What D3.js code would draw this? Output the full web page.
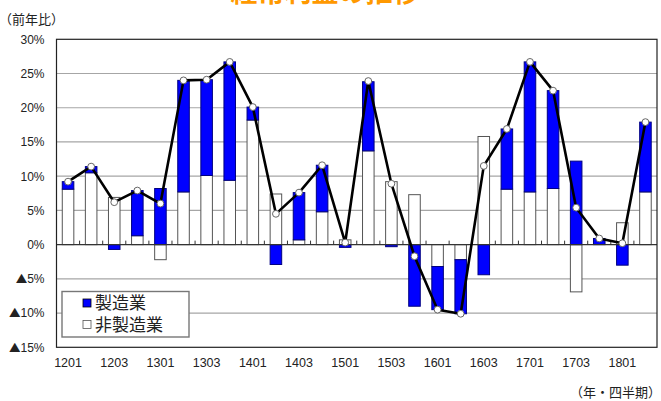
<!DOCTYPE html>
<html><head><meta charset="utf-8">
<script src="https://cdn.jsdelivr.net/npm/d3@7"></script>
<style>
html,body{margin:0;padding:0;background:#fff;}
svg{display:block;}
text{font-family:"Liberation Sans",Arial,"Noto Sans CJK JP",sans-serif;}
.jp{font-family:"Noto Sans CJK JP","Liberation Sans",sans-serif;}
</style></head>
<body>
<script>
const categories = ['1201','1202','1203','1204','1301','1302','1303','1304','1401','1402','1403','1404','1501','1502','1503','1504','1601','1602','1603','1604','1701','1702','1703','1704','1801','1802'];
const nonMfg = [8.1,10.5,6.9,1.3,-2.2,7.7,10.1,9.4,18.2,7.4,0.7,4.8,0.7,13.7,9.2,7.3,-3.2,-2.2,15.8,8.1,7.7,8.2,-6.9,0.0,3.2,7.7];
const mfg = [1.1,0.9,-0.7,6.6,8.2,16.3,14.0,17.3,1.9,-2.9,6.9,6.8,-0.4,10.1,-0.3,-9.0,-6.3,-7.9,-4.4,8.8,19.0,14.3,12.2,0.9,-3.0,10.2];
const total = [9.2,11.4,6.2,7.9,6.0,24.0,24.1,26.7,20.1,4.5,7.6,11.6,0.3,23.9,8.9,-1.7,-9.5,-10.1,11.5,16.9,26.7,22.5,5.4,0.9,0.2,17.9];
const xTickLabels = ['1201','1203','1301','1303','1401','1403','1501','1503','1601','1603','1701','1703','1801'];
const yTicks = [-15,-10,-5,0,5,10,15,20,25,30];
const seriesNames = ['製造業','非製造業'];
const titleText = '経常利益の推移';

const W = 661, H = 401;
const L = 56.5, R = 657, T = 39.3, B = 347.3;

const svg = d3.select('body').append('svg').attr('width', W).attr('height', H);

const x = d3.scaleBand().domain(categories).range([L, R]).paddingInner(0.5).paddingOuter(0.25);
const y = d3.scaleLinear().domain([-15, 30]).range([B, T]);

// title (mostly cut off at top, as in the reference)
svg.append('text').attr('class','jp').attr('x', 325).attr('y', 2).attr('text-anchor','middle')
  .attr('font-size', 27).attr('font-weight','bold').attr('fill','#FF9900').text(titleText);

svg.append('text').attr('class','jp').attr('x', -1).attr('y', 24).attr('font-size', 13).attr('fill','#222').text('（前年比）');
svg.append('text').attr('class','jp').attr('x', 661).attr('y', 397).attr('text-anchor','end').attr('font-size', 13).attr('fill','#222').text('（年・四半期）');

// gridlines
svg.append('g').selectAll('line').data(yTicks.filter(v => v !== 0 && v !== 30 && v !== -15)).join('line')
  .attr('x1', L).attr('x2', R).attr('y1', d => y(d)).attr('y2', d => y(d))
  .attr('stroke', '#a6a6a6').attr('stroke-width', 1.2);

// stacked bars
const rows = categories.map((c, i) => ({cat: c, non: nonMfg[i], mfg: mfg[i]}));
const stack = d3.stack().keys(['non','mfg']).offset(d3.stackOffsetDiverging);
const layers = stack(rows);
const fills = {non: '#ffffff', mfg: '#0000ff'};
const strokes = {non: '#555555', mfg: '#000080'};
svg.append('g').selectAll('g').data(layers).join('g')
  .attr('fill', d => fills[d.key]).attr('stroke', d => strokes[d.key]).attr('stroke-width', 1)
  .selectAll('rect').data(d => d).join('rect')
  .attr('x', d => x(d.data.cat)).attr('width', x.bandwidth())
  .attr('y', d => y(Math.max(d[0], d[1])))
  .attr('height', d => Math.abs(y(d[0]) - y(d[1])));

// zero axis with small ticks at category boundaries
const step = x.step();
const zeroG = svg.append('g');
zeroG.append('line').attr('x1', L).attr('x2', R).attr('y1', y(0)).attr('y2', y(0)).attr('stroke', '#333').attr('stroke-width', 1.2);
zeroG.selectAll('line.tk').data(categories.slice(1)).join('line').attr('class','tk')
  .attr('x1', d => x(d) - (step - x.bandwidth()) / 2).attr('x2', d => x(d) - (step - x.bandwidth()) / 2)
  .attr('y1', y(0)).attr('y2', y(0) - 4).attr('stroke', '#333').attr('stroke-width', 1);

// total line
const cx = d => x(d) + x.bandwidth() / 2;
const line = d3.line().x((d, i) => cx(categories[i])).y(d => y(d));
svg.append('path').datum(total).attr('d', line).attr('fill', 'none').attr('stroke', '#000').attr('stroke-width', 2.6).attr('stroke-linejoin','round');
svg.append('g').selectAll('circle').data(total).join('circle')
  .attr('cx', (d, i) => cx(categories[i])).attr('cy', d => y(d)).attr('r', 3.4)
  .attr('fill', '#fff').attr('stroke', '#666').attr('stroke-width', 1);

// frame
svg.append('rect').attr('x', L).attr('y', T).attr('width', R - L).attr('height', B - T)
  .attr('fill', 'none').attr('stroke', '#222').attr('stroke-width', 1.2);

// y axis labels
const yAxis = d3.axisLeft(y).tickValues(yTicks).tickSize(0).tickPadding(12).tickFormat(() => '');
const yg = svg.append('g').attr('transform', `translate(${L},0)`).call(yAxis);
yg.select('.domain').remove();
yg.selectAll('.tick text').each(function(v) {
  const t = d3.select(this).attr('font-size', 12).attr('fill', '#222');
  if (v < 0) {
    t.append('tspan').attr('font-family', '"Noto Sans CJK JP",sans-serif').attr('font-size', 11.5).text('▲');
    t.append('tspan').text((-v) + '%');
  } else {
    t.append('tspan').text(v + '%');
  }
});

// x axis labels
const xAxis = d3.axisBottom(x).tickValues(xTickLabels).tickSize(0).tickPadding(0);
const xg = svg.append('g').attr('transform', `translate(0,${B + 11})`).call(xAxis);
xg.select('.domain').remove();
xg.selectAll('text').attr('font-size', 12.5).attr('fill', '#222').attr('font-family','"Liberation Sans",Arial,sans-serif');

// legend
const lg = svg.append('g');
lg.append('rect').attr('x', 62).attr('y', 291.5).attr('width', 127).attr('height', 45.5)
  .attr('fill', '#fff').attr('stroke', '#777').attr('stroke-width', 1.4);
const legendItems = [{name: seriesNames[0], key: 'mfg', y: 303}, {name: seriesNames[1], key: 'non', y: 324.5}];
legendItems.forEach(it => {
  lg.append('rect').attr('x', 83).attr('y', it.y - 4).attr('width', 8).attr('height', 8)
    .attr('fill', fills[it.key]).attr('stroke', it.key === 'mfg' ? '#000' : '#555').attr('stroke-width', 0.8);
  lg.append('text').attr('class','jp').attr('x', 95).attr('y', it.y).attr('dy', '0.36em')
    .attr('font-size', 17).attr('fill', '#222').text(it.name);
});
</script>
</body></html>
